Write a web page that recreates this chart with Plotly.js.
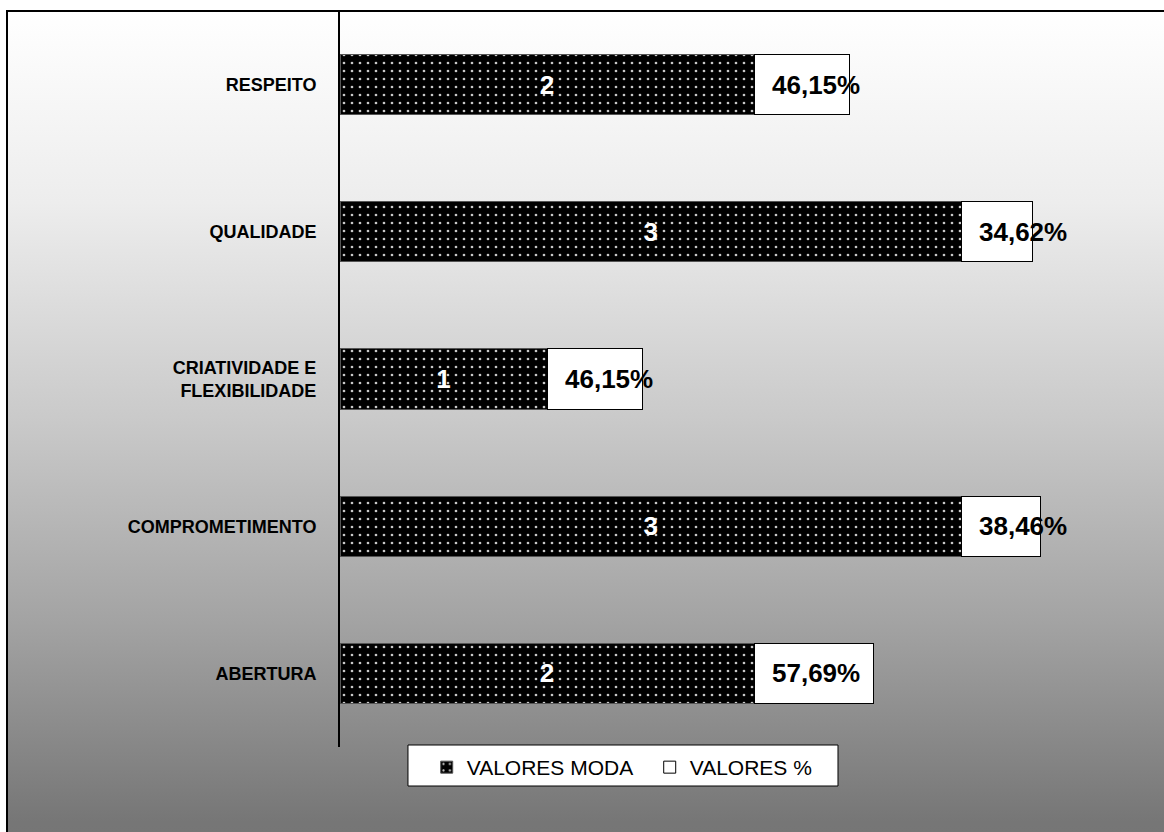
<!DOCTYPE html>
<html>
<head>
<meta charset="utf-8">
<script src="https://cdn.plot.ly/plotly-3.0.1.min.js"></script>
<style>
  html, body { margin: 0; padding: 0; background: #ffffff; overflow: hidden; width: 1164px; height: 832px; }
  #bg {
    position: absolute; left: 6px; top: 10px; width: 1200px; height: 900px;
    border-left: 2px solid #000; border-top: 2px solid #000;
    background: linear-gradient(to bottom, #ffffff 0px, #ededed 190px, #c9c9c9 410px, #a3a3a3 610px, #767676 810px, #747474 900px);
  }
  #chart { position: absolute; left: 0; top: 0; width: 1164px; height: 832px; }
</style>
</head>
<body>
<div id="bg"></div>
<div id="chart"></div>
<script>
// Categories (top to bottom)
const categories = ["RESPEITO", "QUALIDADE", "CRIATIVIDADE E<br>FLEXIBILIDADE", "COMPROMETIMENTO", "ABERTURA"];
// Series values
const valoresModa = [2, 3, 1, 3, 2];
const valoresPct = [46.15, 34.62, 46.15, 38.46, 57.69];
const seriesNames = ["VALORES MODA", "VALORES %"];

const pctFraction = valoresPct.map(v => v / 100);
const pctText = valoresPct.map(v => v.toFixed(2).replace('.', ',') + '%');

const FONT = '"Liberation Sans", Arial, sans-serif';

const traceModa = {
  type: 'bar', orientation: 'h', name: seriesNames[0],
  y: categories, x: valoresModa,
  text: valoresModa.map(String),
  textposition: 'inside', insidetextanchor: 'middle',
  textfont: { family: FONT, size: 26, color: '#ffffff', weight: 'bold' },
  marker: {
    color: '#000000',
    line: { color: '#555555', width: 1 },
    pattern: { shape: '.', fgcolor: '#c8c8c8', bgcolor: '#000000', size: 8, solidity: 0.09, fillmode: 'replace' }
  },
  hoverinfo: 'skip'
};

const tracePct = {
  type: 'bar', orientation: 'h', name: seriesNames[1],
  y: categories, x: pctFraction,
  marker: { color: '#ffffff', line: { color: '#000000', width: 1 } },
  hoverinfo: 'skip'
};

// percentage labels, anchored at the start of the white segment
const annotations = categories.map((c, i) => ({
  x: valoresModa[i], y: c, xref: 'x', yref: 'y',
  text: pctText[i], showarrow: false, xanchor: 'left', xshift: 16,
  font: { family: FONT, size: 26, color: '#000000', weight: 'bold' }
}));

// legend frame
const shapes = [{
  type: 'rect', xref: 'paper', yref: 'paper',
  x0: 0.0831, x1: 0.6088, y0: -0.0530, y1: 0.0027,
  fillcolor: '#ffffff', line: { color: '#000000', width: 1 }, layer: 'below'
}];

const layout = {
  width: 1164, height: 832,
  margin: { l: 340, r: 6, t: 11, b: 85, pad: 0 },
  paper_bgcolor: 'rgba(0,0,0,0)',
  plot_bgcolor: 'rgba(0,0,0,0)',
  barmode: 'stack',
  bargap: 0.59,
  showlegend: true,
  font: { family: FONT, color: '#000000' },
  xaxis: {
    range: [0, 3.95], showgrid: false, zeroline: false, showline: false,
    showticklabels: false, ticks: '', fixedrange: true
  },
  yaxis: {
    type: 'category', autorange: 'reversed',
    showgrid: false, zeroline: false,
    showline: true, linecolor: '#000000', linewidth: 2,
    ticks: '', ticklabelstandoff: 18,
    tickfont: { family: FONT, size: 18, color: '#000000', weight: 'bold' },
    fixedrange: true
  },
  legend: {
    orientation: 'h', x: 0.106, xanchor: 'left', y: 0.0, yanchor: 'top',
    bgcolor: 'rgba(0,0,0,0)', borderwidth: 0,
    font: { family: FONT, size: 21, color: '#000000' },
    traceorder: 'normal', entrywidth: 178, entrywidthmode: 'pixels',
    itemwidth: 30
  },
  shapes: shapes,
  annotations: annotations
};

Plotly.newPlot('chart', [traceModa, tracePct], layout, { displayModeBar: false, staticPlot: true });
</script>
</body>
</html>
